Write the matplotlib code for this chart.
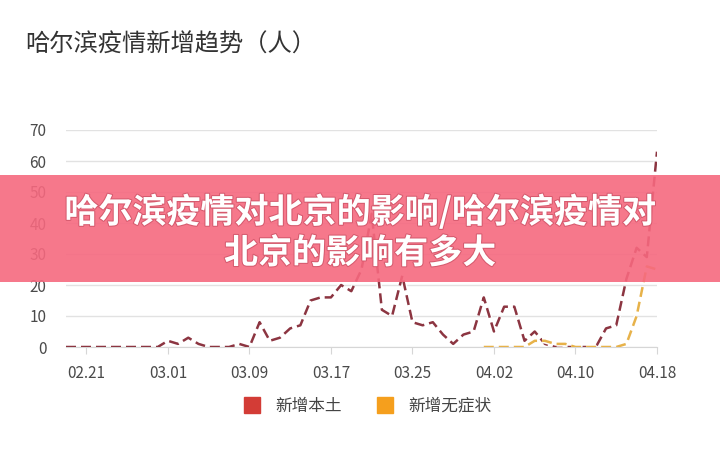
import numpy as np
import pandas as pd
import matplotlib
matplotlib.use("Agg")
import matplotlib.pyplot as plt
from matplotlib.lines import Line2D
from matplotlib.patches import Rectangle
import matplotlib.patheffects as pe

plt.rcParams['font.family'] = ['Noto Sans CJK SC', 'DejaVu Sans']

# daily dates shown on the x axis (02.19 .. 04.18)
dates = pd.date_range('2022-02-19', '2022-04-18').strftime('%m.%d').tolist()
tick_labels = ['02.21', '03.01', '03.09', '03.17', '03.25', '04.02', '04.10', '04.18']

# 新增本土, one value per day from 02.19
local_cases = [0, 0, 0, 0, 0, 0, 0, 0, 0, 0,
               2, 1, 3, 1, 0, 0, 0, 1, 0, 8,
               2, 3, 6, 7, 15, 16, 16, 20, 18, 25,
               43, 12, 10, 23, 8, 7, 8, 4, 1, 4,
               5, 16, 5, 13, 13, 2, 5, 1, 0, 0,
               0, 0, 0, 6, 7, 22, 32, 29, 63]

# 新增无症状, reported from 04.01
asym_start = '04.01'
asym_cases = [0, 0, 0, 0, 0, 2, 2, 1, 1, 0,
              0, 0, 0, 0, 1, 10, 26, 25, 30]

series_names = ['新增本土', '新增无症状']
title = '哈尔滨疫情新增趋势（人）'
banner_text = '哈尔滨疫情对北京的影响/哈尔滨疫情对\n北京的影响有多大'

W, H = 720, 461
fig = plt.figure(figsize=(W / 100, H / 100), dpi=100)
ax = fig.add_axes([66 / W, 114 / H, 591 / W, 217 / H])

x_all = np.arange(len(dates))
i0 = dates.index(asym_start)
x_asym = np.arange(i0, i0 + len(asym_cases))

halo = [pe.Stroke(linewidth=4, foreground='white'), pe.Normal()]
ax.plot(x_all, local_cases, ls='--', dashes=(4, 2), color='#8c3541', lw=1.8,
        path_effects=halo, zorder=3)
ax.plot(x_asym, asym_cases, ls='--', dashes=(4, 2), color='#e7b24a', lw=1.8,
        path_effects=halo, zorder=4)

ax.set_xlim(0, len(dates) - 1)
ax.set_ylim(0, 70)
ax.set_yticks(range(0, 71, 10))
ax.set_xticks([dates.index(t) for t in tick_labels])
ax.set_xticklabels(tick_labels)
ax.grid(axis='y', color='#e2e2e2', lw=1)
ax.set_axisbelow(True)
for s in ['top', 'right', 'left']:
    ax.spines[s].set_visible(False)
ax.spines['bottom'].set_color('#d6d6d6')
ax.tick_params(axis='y', length=0, pad=14, labelsize=11, labelcolor='#4a4a4a')
ax.tick_params(axis='x', length=5, color='#d6d6d6', pad=8, labelsize=11,
               labelcolor='#4a4a4a')

fig.text(25 / W, 1 - 45 / H, title, fontsize=17.5, color='#333333', va='center')

handles = [Line2D([], [], ls='none', marker='s', markersize=11, color='#d33c36'),
           Line2D([], [], ls='none', marker='s', markersize=11, color='#f59f1d')]
fig.legend(handles, series_names, loc='center', bbox_to_anchor=(0.505, 1 - 406 / H),
           ncol=2, frameon=False, fontsize=12, labelcolor='#444444',
           handletextpad=0.4, columnspacing=1.6)

fig.patches.append(Rectangle((0, 1 - 282 / H), 1, 107 / H, transform=fig.transFigure,
                             facecolor='#f6697f', alpha=0.9, edgecolor='none', zorder=10))
fig.text(0.5, 1 - 232 / H, banner_text, ha='center', va='center', multialignment='center',
         fontsize=24.5, fontweight='bold', color='white', linespacing=1.2, zorder=11,
         path_effects=[pe.withStroke(linewidth=1.5, foreground='#d65a6e')])

fig.savefig('out.png', dpi=100)
